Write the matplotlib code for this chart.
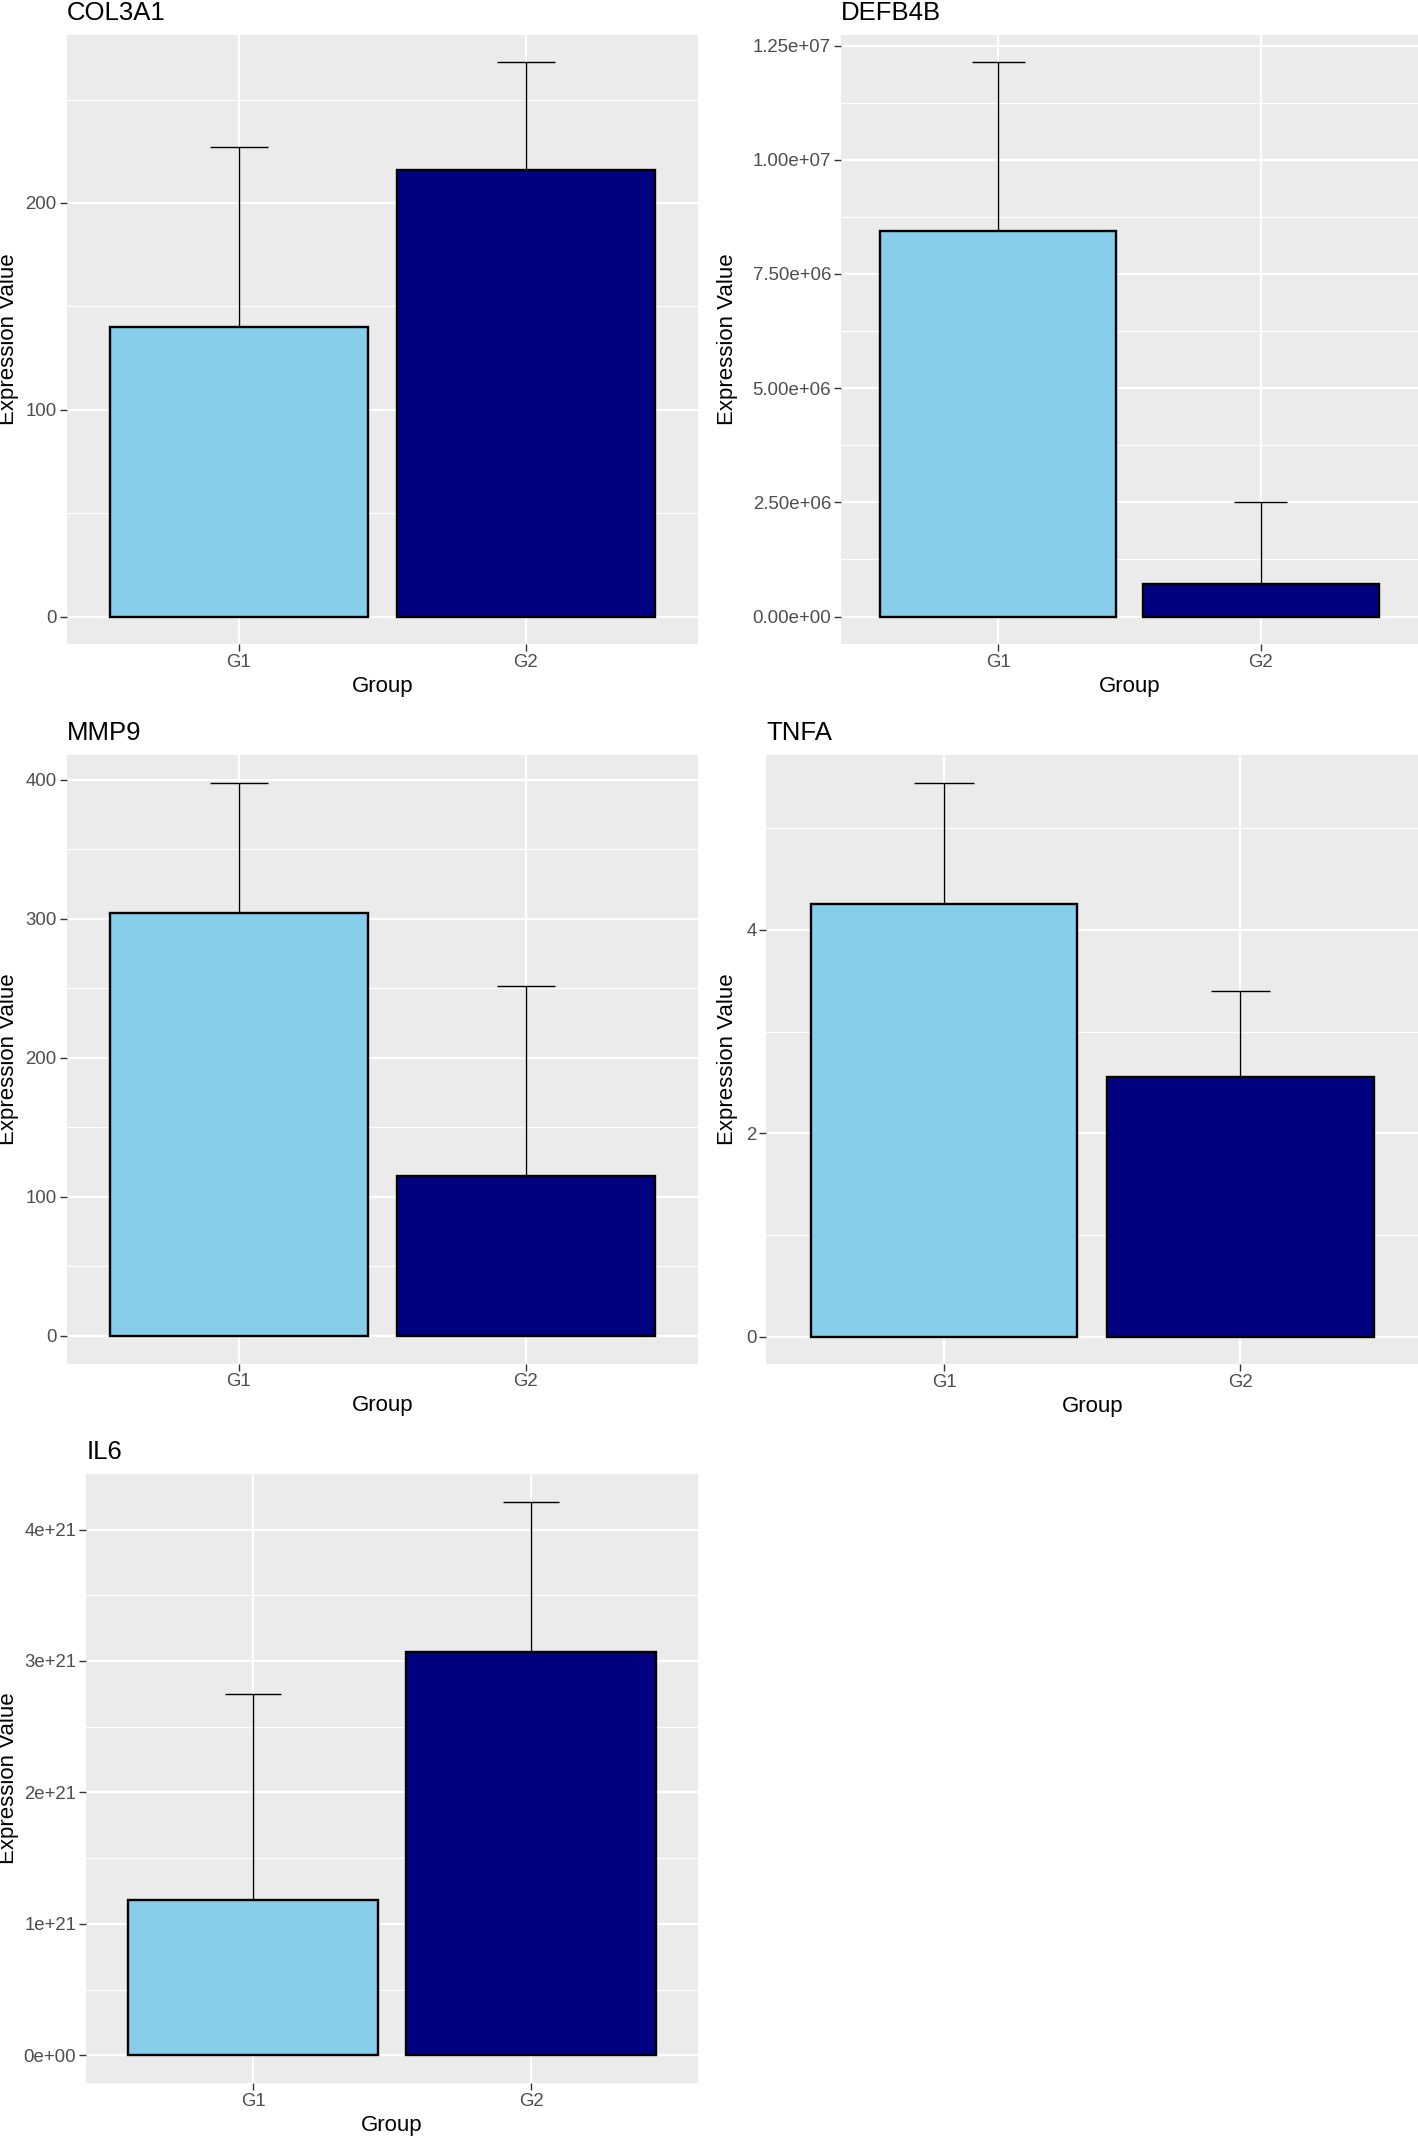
import matplotlib
matplotlib.use("Agg")
import matplotlib.pyplot as plt
import numpy as np

plt.rcParams['font.family'] = ['Liberation Sans', 'DejaVu Sans']

# data
groups = ["G1", "G2"]
bar_colors = ["#87CEEB", "#000080"]

col3a1_mean = [140.1, 216.0]
col3a1_sd = [86.7, 51.9]
col3a1_ticks = [0, 100, 200]
col3a1_labels = ["0", "100", "200"]

defb4b_mean = [8.45e6, 7.1e5]
defb4b_sd = [3.68e6, 1.79e6]
defb4b_ticks = [0, 2.5e6, 5e6, 7.5e6, 1e7, 1.25e7]
defb4b_labels = ["0.00e+00", "2.50e+06", "5.00e+06", "7.50e+06", "1.00e+07", "1.25e+07"]

mmp9_mean = [304.5, 115.3]
mmp9_sd = [93.5, 136.1]
mmp9_ticks = [0, 100, 200, 300, 400]
mmp9_labels = ["0", "100", "200", "300", "400"]

tnfa_mean = [4.255, 2.549]
tnfa_sd = [1.195, 0.849]
tnfa_ticks = [0, 2, 4]
tnfa_labels = ["0", "2", "4"]

il6_mean = [1.183e21, 3.071e21]
il6_sd = [1.568e21, 1.141e21]
il6_ticks = [0, 1e21, 2e21, 3e21, 4e21]
il6_labels = ["0e+00", "1e+21", "2e+21", "3e+21", "4e+21"]

W, H = 1418, 2137
fig = plt.figure(figsize=(W / 100, H / 100), dpi=100)


def panel(title, mean, sd, ticks, labels, box, ylab_x):
    # box in pixels: left, top, right, bottom
    l, t, r, b = box
    ax = fig.add_axes([l / W, 1 - b / H, (r - l) / W, (b - t) / H])
    ax.set_facecolor("#EBEBEB")
    x = np.arange(1, len(groups) + 1)
    mean = np.array(mean)
    sd = np.array(sd)
    top = (mean + sd).max()
    ax.set_xlim(0.4, len(groups) + 0.6)
    ax.set_ylim(-0.05 * top, 1.05 * top)

    # grid
    step = ticks[1] - ticks[0]
    minor = np.arange(ticks[0] - step / 2, 1.05 * top, step)
    for m in minor:
        ax.axhline(m, color="white", lw=0.8, zorder=0)
    for tk in ticks:
        ax.axhline(tk, color="white", lw=1.6, zorder=0)
    for xi in x:
        ax.axvline(xi, color="white", lw=1.6, zorder=0)

    ax.vlines(x, mean, mean + sd, color="black", lw=1.0, zorder=2)
    ax.hlines(mean + sd, x - 0.1, x + 0.1, color="black", lw=1.0, zorder=2)
    ax.bar(x, mean, width=0.9, color=bar_colors, edgecolor="black",
           linewidth=1.7, zorder=3)

    ax.set_xticks(x)
    ax.set_xticklabels(groups)
    ax.set_yticks(ticks)
    ax.set_yticklabels(labels)
    ax.tick_params(length=5, width=1, color="#333333", labelcolor="#4D4D4D",
                   labelsize=13.4, pad=2.2)
    for s in ax.spines.values():
        s.set_visible(False)

    fig.text(l / W, 1 - (t - 15) / H, title, fontsize=18.5,
             ha="left", va="baseline", color="black")
    fig.text((l + r) / 2 / W, 1 - (b + 42.5) / H, "Group", fontsize=16,
             ha="center", va="center", color="black")
    fig.text(ylab_x / W, 1 - (t + b) / 2 / H, "Expression Value", fontsize=16,
             rotation=90, ha="center", va="center", color="black")
    return ax


panel("COL3A1", col3a1_mean, col3a1_sd, col3a1_ticks, col3a1_labels,
      (66.6, 34.8, 698, 644.2), 9)
panel("DEFB4B", defb4b_mean, defb4b_sd, defb4b_ticks, defb4b_labels,
      (841, 34.8, 1418, 644.2), 728)
panel("MMP9", mmp9_mean, mmp9_sd, mmp9_ticks, mmp9_labels,
      (66.6, 755, 698, 1363.5), 9)
panel("TNFA", tnfa_mean, tnfa_sd, tnfa_ticks, tnfa_labels,
      (766.4, 754.8, 1418, 1364.2), 728)
panel("IL6", il6_mean, il6_sd, il6_ticks, il6_labels,
      (86.3, 1474, 698, 2083), 9)

fig.savefig("out.png", dpi=100, facecolor="white")
